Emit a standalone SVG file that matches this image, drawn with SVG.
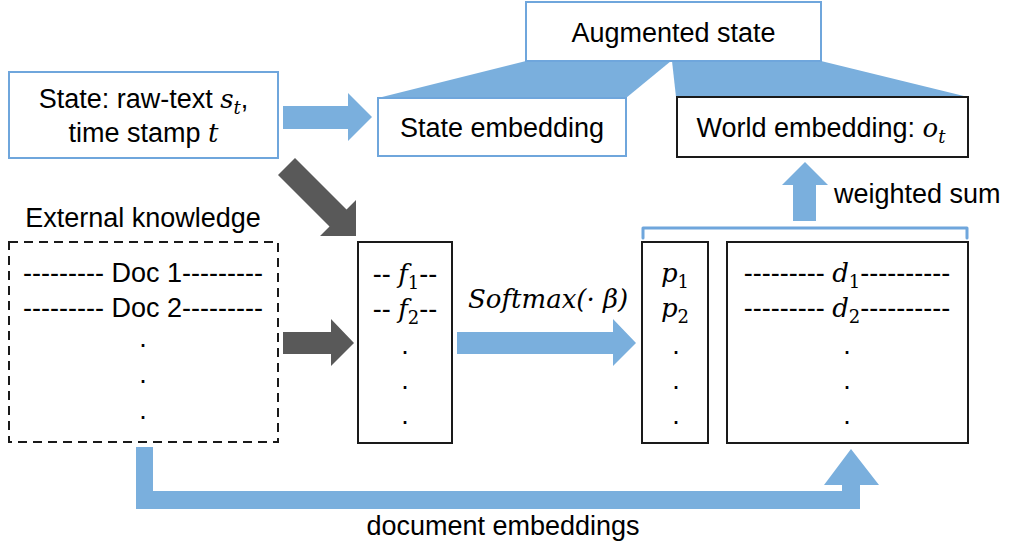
<svg xmlns="http://www.w3.org/2000/svg" width="1009" height="548" viewBox="0 0 1009 548">
<style>
.t{font-family:"Liberation Sans",Arial,sans-serif;font-size:27px;fill:#000}
.m{font-family:"DejaVu Serif","Liberation Serif",serif;font-style:italic;font-size:26px}
.s{font-family:"DejaVu Serif","Liberation Serif",serif;font-style:normal;font-size:18px}
.si{font-family:"DejaVu Serif","Liberation Serif",serif;font-style:italic;font-size:18px}
.bb{fill:#fff;stroke:#6fa6dc;stroke-width:2}
.kb{fill:#fff;stroke:#1a1a1a;stroke-width:2}
.blue{fill:#7aafdd}
.dark{fill:#595959}
</style>
<rect width="1009" height="548" fill="#fff"/>
<g id="connectors">
<polygon class="blue" points="526,61 671,61 626,98 378,98"/>
<polygon class="blue" points="672,61 821,61 968,97 676,97"/>
<polygon class="blue" points="283,106 348,106 348,93 372,117 348,141 348,129 283,129"/>
<polygon class="dark" points="295,158 346.5,209.5 356,200 356,236 320,236 329.5,226.5 278,175"/>
<polygon class="dark" points="283,332 331,332 331,319 354,343 331,366 331,354 283,354"/>
<polygon class="blue" points="457,332 613,332 613,319 636,343 613,366 613,354 457,354"/>
<polygon class="blue" points="793,221 793,185 782,185 805,162 828,185 816,185 816,221"/>
<path d="M643,238 V228 H967 V238" fill="none" stroke="#6fa6dc" stroke-width="3" stroke-linejoin="round" stroke-linecap="round"/>
<polygon class="blue" points="136,447 153,447 153,491 842,491 842,485 824,485 851,449 879,485 860,485 860,509 136,509"/>
<text class="t" x="468" y="308"><tspan class="m">Softmax(· β)</tspan></text>
<text class="t" x="834" y="203">weighted sum</text>
<text class="t" x="503" y="535" text-anchor="middle">document embeddings</text>
</g>
<g id="augmented">
<rect class="bb" x="526" y="2" width="295" height="59"/>
<text class="t" x="673.5" y="42" text-anchor="middle">Augmented state</text>
</g>
<g id="state">
<rect class="bb" x="9" y="72" width="269" height="86"/>
<text class="t" x="143.5" y="108" text-anchor="middle">State: raw-text <tspan class="m">s</tspan><tspan class="si" dy="6">t</tspan><tspan dy="-6">,</tspan></text>
<text class="t" x="143.5" y="142" text-anchor="middle">time stamp <tspan class="m">t</tspan></text>
</g>
<g id="state-embedding">
<rect class="bb" x="378" y="98" width="248" height="58"/>
<text class="t" x="502" y="137" text-anchor="middle">State embedding</text>
</g>
<g id="world-embedding">
<rect class="kb" x="677" y="97" width="291" height="60"/>
<text class="t" x="821" y="137" text-anchor="middle">World embedding: <tspan class="m">o</tspan><tspan class="si" dy="6">t</tspan></text>
</g>
<g id="external-knowledge">
<text class="t" x="143" y="227" text-anchor="middle">External knowledge</text>
<rect x="9" y="242" width="269" height="200" fill="#fff" stroke="#1a1a1a" stroke-width="2" stroke-dasharray="9,6"/>
<text class="t" x="143" y="282" text-anchor="middle">--------- Doc 1---------</text>
<text class="t" x="143" y="317" text-anchor="middle">--------- Doc 2---------</text>
<text class="t" x="143" y="347" text-anchor="middle">.</text>
<text class="t" x="143" y="383" text-anchor="middle">.</text>
<text class="t" x="143" y="419" text-anchor="middle">.</text>
</g>
<g id="f-vector">
<rect class="kb" x="358" y="242" width="94" height="201"/>
<text class="t" x="405" y="283" text-anchor="middle">-- <tspan class="m">f</tspan><tspan class="s" dy="6">1</tspan><tspan dy="-6">--</tspan></text>
<text class="t" x="405" y="318" text-anchor="middle">-- <tspan class="m">f</tspan><tspan class="s" dy="6">2</tspan><tspan dy="-6">--</tspan></text>
<text class="t" x="405" y="354" text-anchor="middle">.</text>
<text class="t" x="405" y="389" text-anchor="middle">.</text>
<text class="t" x="405" y="424" text-anchor="middle">.</text>
</g>
<g id="p-vector">
<rect class="kb" x="642" y="242" width="66" height="201"/>
<text class="t" x="675" y="282" text-anchor="middle"><tspan class="m">p</tspan><tspan class="s" dy="6">1</tspan></text>
<text class="t" x="675" y="317" text-anchor="middle"><tspan class="m">p</tspan><tspan class="s" dy="6">2</tspan></text>
<text class="t" x="676" y="354" text-anchor="middle">.</text>
<text class="t" x="676" y="389" text-anchor="middle">.</text>
<text class="t" x="676" y="424" text-anchor="middle">.</text>
</g>
<g id="d-matrix">
<rect class="kb" x="727" y="242" width="241" height="201"/>
<text class="t" x="847" y="282" text-anchor="middle">--------- <tspan class="m">d</tspan><tspan class="s" dy="6">1</tspan><tspan dy="-6">----------</tspan></text>
<text class="t" x="847" y="317" text-anchor="middle">--------- <tspan class="m">d</tspan><tspan class="s" dy="6">2</tspan><tspan dy="-6">----------</tspan></text>
<text class="t" x="847" y="354" text-anchor="middle">.</text>
<text class="t" x="847" y="389" text-anchor="middle">.</text>
<text class="t" x="847" y="424" text-anchor="middle">.</text>
</g>
</svg>
